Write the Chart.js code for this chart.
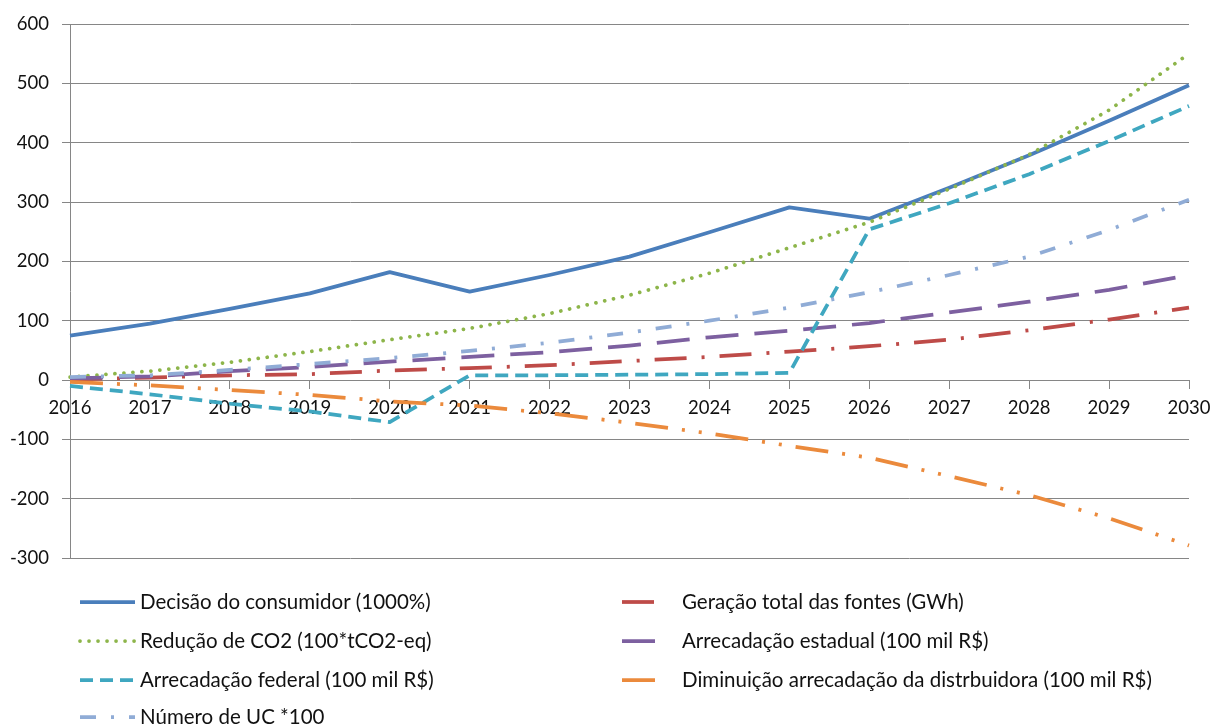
<!DOCTYPE html>
<html>
<head>
<meta charset="utf-8">
<script src="https://cdn.jsdelivr.net/npm/chart.js@4/dist/chart.umd.min.js"></script>
<style>
html,body{margin:0;padding:0;background:#fff;}
#wrap{position:relative;width:1216px;height:726px;}
</style>
</head>
<body>
<div id="wrap"><canvas id="c" width="1216" height="726"></canvas></div>
<script>
const years = ['2016','2017','2018','2019','2020','2021','2022','2023','2024','2025','2026','2027','2028','2029','2030'];
const decisaoConsumidor = [75, 95, 120, 146, 182, 149, 177, 208, 249, 291, 272, 324, 379, 437, 497];
const geracaoTotal = [1, 4, 8, 10, 16, 20, 25, 32, 39, 48, 57, 68, 84, 102, 122];
const reducaoCO2 = [5, 15, 30, 48, 68, 87, 112, 143, 180, 223, 266, 322, 380, 455, 550];
const arrecadacaoEstadual = [3, 6, 15, 22, 31, 39, 47, 58, 72, 83, 96, 114, 132, 152, 177];
const arrecadacaoFederal = [-10, -24, -40, -53, -71, 8, 8, 9, 10, 12, 254, 298, 347, 403, 462];
const diminuicaoDistribuidora = [-3, -9, -17, -25, -36, -43, -56, -72, -90, -111, -131, -162, -194, -233, -279];
const numeroUC = [5, 8, 17, 27, 37, 49, 63, 80, 100, 122, 148, 177, 208, 253, 304];
const seriesNames = [
  'Decisão do consumidor (1000%)',
  'Geração total das fontes (GWh)',
  'Redução de CO2 (100*tCO2-eq)',
  'Arrecadação estadual (100 mil R$)',
  'Arrecadação federal (100 mil R$)',
  'Diminuição arrecadação da distrbuidora (100 mil R$)',
  'Número de UC *100'
];
const yTicks = [-300, -200, -100, 0, 100, 200, 300, 400, 500, 600];

const FONT = 'Lato, "Open Sans", sans-serif';
const seriesValues = [decisaoConsumidor, geracaoTotal, reducaoCO2, arrecadacaoEstadual, arrecadacaoFederal, diminuicaoDistribuidora, numeroUC];
const styles = [
  {color:'#4A7EBB', dash:[], cap:'butt', w:3.75},
  {color:'#BE4B48', dash:[32,15,3,15], cap:'butt', w:3.75},
  {color:'#8DB54A', dash:[0.01,9], cap:'round', w:3.75},
  {color:'#7D60A0', dash:[33,16], cap:'butt', w:3.75},
  {color:'#3FA7C0', dash:[13,7], cap:'butt', w:3.75},
  {color:'#EB8A3C', dash:[33,14,3,14,3,14], cap:'butt', w:3.75},
  {color:'#90ACD6', dash:[16,15,3,15], cap:'butt', w:3.75}
];
// legend placement: [swatchX1, swatchX2, textX, y]
const legendPos = [
  [80,135,140,602],
  [622,657,682,602],
  [80,135,140,641],
  [622,657,682,641],
  [80,135,140,680],
  [622,657,682,680],
  [80,135,140,717]
];

const datasets = seriesValues.map((vals,i)=>({
  label: seriesNames[i],
  data: vals,
  borderColor: styles[i].color,
  backgroundColor: styles[i].color,
  borderWidth: styles[i].w,
  borderDash: styles[i].dash,
  borderCapStyle: styles[i].cap,
  borderJoinStyle: 'round',
  pointRadius: 0,
  pointHoverRadius: 0,
  tension: 0,
  fill: false,
  order: seriesValues.length - i
}));

const legendPlugin = {
  id: 'customLegend',
  afterDraw(chart){
    const ctx = chart.ctx;
    ctx.save();
    chart.data.datasets.forEach((ds,i)=>{
      const [x1,x2,tx,y] = legendPos[i];
      ctx.save();
      ctx.beginPath();
      ctx.rect(x1-2, y-6, x2-x1+4, 12);
      ctx.clip();
      ctx.beginPath();
      ctx.strokeStyle = ds.borderColor;
      ctx.lineWidth = ds.borderWidth;
      ctx.lineCap = ds.borderCapStyle;
      ctx.setLineDash(ds.borderDash);
      ctx.moveTo(x1, y);
      ctx.lineTo(x2, y);
      ctx.stroke();
      ctx.restore();
      ctx.fillStyle = '#111';
      ctx.font = '20.5px ' + FONT;
      ctx.textBaseline = 'middle';
      ctx.textAlign = 'left';
      ctx.fillText(ds.label, tx, y);
    });
    ctx.restore();
  }
};

new Chart(document.getElementById('c'), {
  type: 'line',
  data: { labels: years, datasets },
  options: {
    responsive: false,
    animation: false,
    events: [],
    layout: { padding: { left: 0, right: 27, top: 23, bottom: 168 } },
    plugins: { legend: { display: false }, tooltip: { enabled: false } },
    scales: {
      x: {
        type: 'category',
        position: { y: 0 },
        offset: false,
        afterFit(scale){ scale.paddingLeft = 0; scale.paddingRight = 0; },
        grid: { display: true, drawOnChartArea: false, drawTicks: true, tickLength: 8, color: '#868686', lineWidth: 1 },
        border: { display: true, color: '#868686', width: 1 },
        ticks: { color: '#111', font: { family: FONT, size: 18.5 }, padding: 9, maxRotation: 0, autoSkip: false }
      },
      y: {
        min: -300, max: 600,
        afterBuildTicks(scale){ scale.ticks = yTicks.map(v=>({value:v})); },
        afterFit(scale){ scale.width = 70; },
        grid: { color: '#868686', lineWidth: 1, tickLength: 8, drawTicks: true },
        border: { display: true, color: '#868686', width: 1 },
        ticks: { color: '#111', font: { family: FONT, size: 18.5 }, padding: 13 }
      }
    }
  },
  plugins: [legendPlugin]
});
</script>
</body>
</html>
